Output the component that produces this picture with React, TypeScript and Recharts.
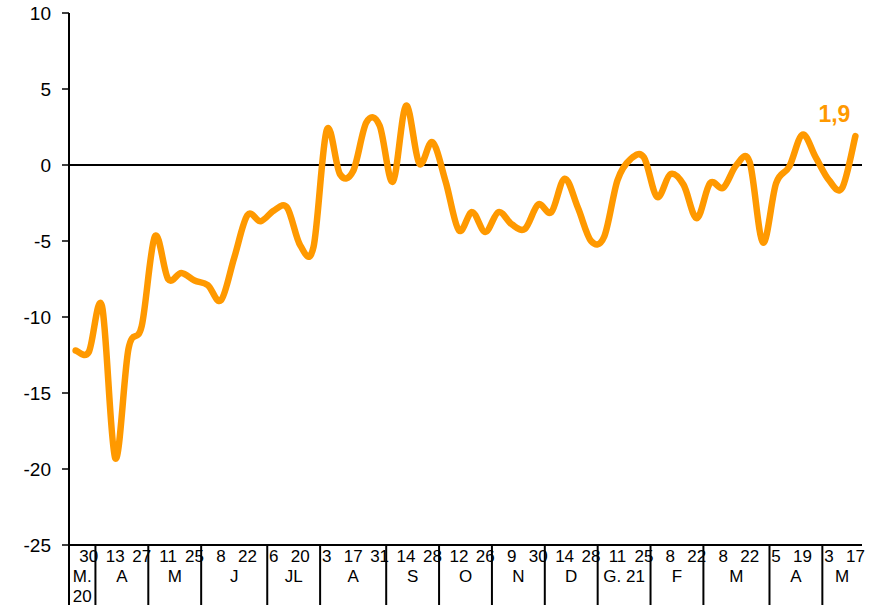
import React from 'react';
import { LineChart, Line, XAxis, YAxis, ReferenceLine, LabelList } from 'recharts';

const weekDays = [23, 30, 6, 13, 20, 27, 4, 11, 18, 25, 1, 8, 15, 22, 29, 6, 13, 20, 27, 3, 10, 17, 24, 31, 7, 14, 21, 28, 5, 12, 19, 26, 2, 9, 16, 30, 7, 14, 21, 28, 4, 11, 18, 25, 1, 8, 15, 22, 1, 8, 15, 22, 29, 5, 12, 19, 26, 3, 10, 17];
const monthLabels = ['M.|20', 'A', 'M', 'J', 'JL', 'A', 'S', 'O', 'N', 'D', 'G. 21', 'F', 'M', 'A', 'M'];
const monthWeeks = [2, 4, 4, 5, 4, 5, 4, 4, 4, 4, 4, 4, 5, 4, 3];
const values = [
  -12.2, -12.3, -9.3, -19.3, -12.1, -10.6, -4.7, -7.5, -7.1, -7.6,
  -7.9, -8.9, -6.1, -3.3, -3.7, -3.0, -2.8, -5.3, -5.4, 2.3,
  -0.6, -0.4, 2.8, 2.6, -1.1, 3.9, 0.1, 1.5, -1.1, -4.3,
  -3.1, -4.4, -3.1, -3.9, -4.2, -2.6, -3.1, -0.9, -2.8, -5.0,
  -4.7, -1.0, 0.4, 0.5, -2.1, -0.6, -1.3, -3.5, -1.2, -1.5,
  0.0, 0.2, -5.1, -1.2, -0.1, 2.0, 0.5, -1.0, -1.5, 1.9,
];
const yTicks = [-25, -20, -15, -10, -5, 0, 5, 10];

const data = values.map((v, i) => ({ idx: i, day: weekDays[i], v }));

const monthStart: Record<number, number> = {};
{
  let acc = 0;
  monthWeeks.forEach((n, m) => {
    monthStart[acc] = m;
    acc += n;
  });
}

const FONT = '"Liberation Sans", Arial, sans-serif';
const ORANGE = '#FF9900';

function smoothCurve(context: any) {
  let pts: number[][] = [];
  return {
    areaStart() {},
    areaEnd() {},
    lineStart() {
      pts = [];
    },
    lineEnd() {
      const n = pts.length;
      if (!n) return;
      context.moveTo(pts[0][0], pts[0][1]);
      const t = 1 / 6;
      for (let i = 0; i < n - 1; i++) {
        const p0 = pts[i - 1] || pts[i];
        const p1 = pts[i];
        const p2 = pts[i + 1];
        const p3 = pts[i + 2] || p2;
        context.bezierCurveTo(
          p1[0] + (p2[0] - p0[0]) * t,
          p1[1] + (p2[1] - p0[1]) * t,
          p2[0] - (p3[0] - p1[0]) * t,
          p2[1] - (p3[1] - p1[1]) * t,
          p2[0],
          p2[1]
        );
      }
    },
    point(x: number, y: number) {
      pts.push([+x, +y]);
    },
  };
}

const XTick = (props: any) => {
  const { x, y, payload } = props;
  const i = payload.value as number;
  const half = payload.offset || 0;
  const band = half * 2;
  const parts: React.ReactNode[] = [];
  if (i % 2 === 1) {
    parts.push(
      <text key="d" x={x} y={y + 17} textAnchor="middle" fontSize={17} fontFamily={FONT} fill="#000">
        {weekDays[i]}
      </text>
    );
  }
  if (monthStart[i] !== undefined) {
    const m = monthStart[i];
    const sx = x - half;
    const cx = sx + (monthWeeks[m] * band) / 2;
    const lines = monthLabels[m].split('|');
    parts.push(<line key="s" x1={sx} y1={y} x2={sx} y2={y + 62} stroke="#000" strokeWidth={2} />);
    lines.forEach((l, k) => {
      parts.push(
        <text key={'m' + k} x={cx} y={y + 37 + k * 20} textAnchor="middle" fontSize={17} fontFamily={FONT} fill="#000">
          {l}
        </text>
      );
    });
  }
  return <g>{parts}</g>;
};

const renderLabel = (props: any) => {
  const { x, y, index, value } = props;
  if (index !== values.length - 1) return null;
  return (
    <text x={x - 21} y={y - 14} textAnchor="middle" fontSize={23} fontWeight="bold" fontFamily={FONT} fill={ORANGE}>
      {String(value).replace('.', ',')}
    </text>
  );
};

export default function App() {
  return (
    <div style={{ position: 'absolute', left: 0, top: 0, background: '#fff' }}>
      <LineChart width={869} height={605} data={data} margin={{ top: 13, right: 7, left: 0, bottom: 0 }}>
        <XAxis
          dataKey="idx"
          type="category"
          scale="band"
          interval={0}
          tickLine={false}
          tickSize={0}
          tickMargin={0}
          height={60}
          axisLine={{ stroke: '#000', strokeWidth: 2 }}
          tick={<XTick />}
        />
        <XAxis xAxisId="top" dataKey="idx" scale="band" orientation="top" height={0} tick={false} tickLine={false} axisLine={{ stroke: '#000', strokeWidth: 1.5 }} />
        <YAxis
          domain={[-25, 10]}
          ticks={yTicks}
          interval={0}
          width={69}
          tickSize={7}
          tickMargin={11}
          axisLine={{ stroke: '#000', strokeWidth: 2 }}
          tickLine={{ stroke: '#000', strokeWidth: 1.5 }}
          tick={{ fill: '#000', fontSize: 19, fontFamily: FONT }}
        />
        <YAxis yAxisId="right" orientation="right" width={0} domain={[-25, 10]} tick={false} tickLine={false} axisLine={{ stroke: '#000', strokeWidth: 1.5 }} />
        <ReferenceLine y={0} stroke="#000" strokeWidth={2} />
        <Line
          dataKey="v"
          type={smoothCurve as any}
          stroke={ORANGE}
          strokeWidth={6.5}
          strokeLinecap="round"
          strokeLinejoin="round"
          dot={false}
          activeDot={false}
          isAnimationActive={false}
        >
          <LabelList dataKey="v" content={renderLabel} />
        </Line>
      </LineChart>
    </div>
  );
}
